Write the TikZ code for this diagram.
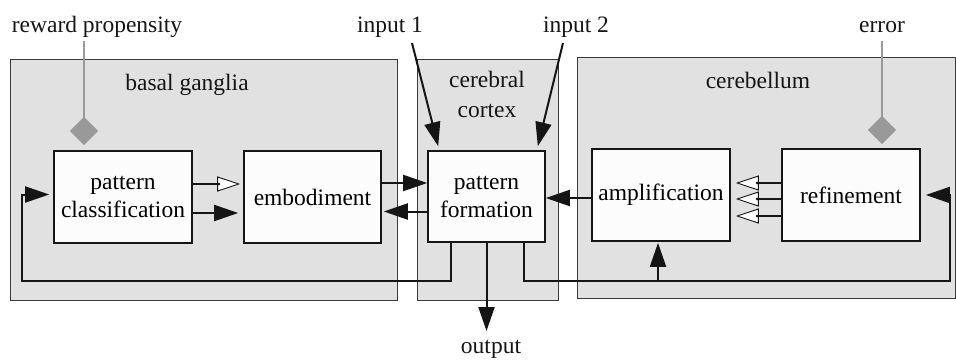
\documentclass[tikz,border=0pt]{standalone}
\usepackage{fontspec}
\setmainfont{Liberation Serif}
\usetikzlibrary{arrows.meta,shapes.geometric,calc}
\definecolor{regfill}{HTML}{E1E1E1}
\definecolor{regdraw}{HTML}{3A3A3A}
\definecolor{boxfill}{HTML}{FCFCFC}
\definecolor{inkc}{HTML}{151515}
\definecolor{diagray}{HTML}{999999}
\tikzset{
  region/.style={fill=regfill,draw=regdraw,line width=1pt},
  block/.style={fill=boxfill,draw=inkc,line width=1.6pt,inner sep=0pt,align=center,font=\fontsize{23.5}{28}\selectfont},
  lbl/.style={inner sep=0pt,anchor=base,font=\fontsize{23.5}{28}\selectfont,text=inkc},
  conn/.style={draw=inkc,line width=2pt},
  fullarrow/.style={conn,-{Triangle[length=24pt,width=16pt]}},
  openarrow/.style={conn,-{Triangle[open,length=23pt,width=15pt,line width=0.9pt,fill=white]}},
  grayline/.style={draw=diagray,line width=2.6pt},
  gdia/.style={diamond,fill=diagray,minimum width=28pt,minimum height=28pt,inner sep=0pt},
  dotc/.style={circle,fill=inkc,inner sep=0pt,minimum size=3pt}
}
\begin{document}
\begin{tikzpicture}[x=1pt,y=-1pt]
\useasboundingbox (0,0) rectangle (956,359);
% regions
\draw[region] (10,59) rectangle (397,300);
\draw[region] (417,59) rectangle (558,300);
\draw[region] (577,57) rectangle (955,298);
% region labels
\node[lbl] (bgl) at (187,90) {basal ganglia};
\node[lbl] (ccl1) at (487,87) {cerebral};
\node[lbl] (ccl2) at (487,117) {cortex};
\node[lbl] (cbl) at (758,88) {cerebellum};
% blocks
\node[block,minimum width=138pt,minimum height=92pt] (pc) at (123,197) {pattern\\classification};
\node[block,minimum width=137pt,minimum height=92pt] (emb) at (312.5,197) {embodiment};
\node[block,minimum width=117pt,minimum height=91pt] (pf) at (486.5,196.5) {pattern\\formation};
\node[block,minimum width=138pt,minimum height=92pt] (amp) at (661,195) {amplification};
\node[block,minimum width=138pt,minimum height=92pt] (ref) at (851,195) {refinement};
% top labels
\node[lbl] (rwd) at (97,32) {reward propensity};
\node[lbl] (in1) at (390,32) {input 1};
\node[lbl] (in2) at (576,32) {input 2};
\node[lbl] (err) at (882,32) {error};
\node[lbl] (out) at (491,353) {output};
% diamonds
\node[gdia] (d1) at (84,131) {};
\node[gdia] (d2) at (882,130) {};
\coordinate (d1top) at (84,41);
\coordinate (d2top) at (882,41);
\draw[grayline] (d1top) -- (d1.center);
\draw[grayline] (d2top) -- (d2.center);
\node[gdia] at (d1) {};
\node[gdia] at (d2) {};
% inputs
\coordinate (i1s) at (412,43);
\coordinate (i2s) at (563,43);
\draw[fullarrow] (i1s) -- ([xshift=11pt,yshift=4pt]pf.north west);
\draw[fullarrow] (i2s) -- ([xshift=-8pt,yshift=4pt]pf.north east);
% pc -> emb
\draw[openarrow,shorten >=3pt] ([yshift=13pt]pc.east) -- ([yshift=13pt]emb.west);
\node[dotc] at ([xshift=26pt,yshift=13pt]pc.east) {};
\draw[fullarrow,shorten >=5pt] ([yshift=-16pt]pc.east) -- ([yshift=-16pt]emb.west);
% emb <-> pf
\draw[fullarrow] ([yshift=14pt]emb.east) -- ([yshift=14pt]emb.east -| pf.west);
\draw[fullarrow,shorten >=2pt] ([yshift=-15pt]pf.west) -- ([yshift=-15pt]pf.west -| emb.east);
% amp -> pf
\draw[fullarrow] ([yshift=-3pt]amp.west) -- ([yshift=-3pt]amp.west -| pf.east);
% ref -> amp (three)
\foreach \dy in {12,-4,-21}{
  \draw[openarrow,shorten >=5pt] ([yshift=\dy pt]ref.west) -- ([yshift=\dy pt]ref.west -| amp.east);
  \node[dotc] at ([xshift=-24pt,yshift=\dy pt]ref.west) {};
}
% output
\coordinate (outtip) at (486.5,331);
\draw[fullarrow] (pf.south) -- (outtip);
% feedback loops
\coordinate (loopL) at (22,281);
\coordinate (loopR) at (950,281);
\draw[fullarrow] ([xshift=-35.5pt]pf.south) |- (loopL) |- ([xshift=-4pt,yshift=2.5pt]pc.west);
\draw[fullarrow] ([xshift=37.5pt]pf.south) |- (loopR) |- ([xshift=5pt]ref.east);
\draw[fullarrow,shorten >=1pt] ([xshift=-3pt]amp.south |- loopR) -- ([xshift=-3pt]amp.south);
\end{tikzpicture}
\end{document}
